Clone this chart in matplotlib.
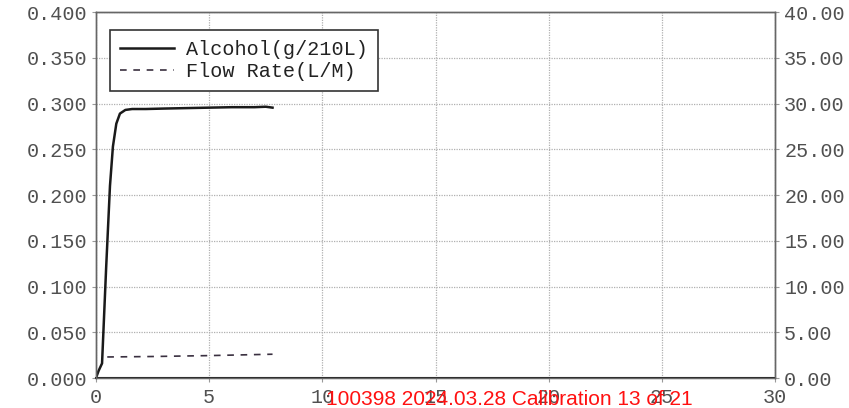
import matplotlib.pyplot as plt
from matplotlib.ticker import MultipleLocator, FormatStrFormatter

# alcohol curve (g/210L) vs time (s)
alc_t = [0.0, 0.12, 0.27, 0.45, 0.62, 0.75, 0.9, 1.06, 1.3, 1.6, 2.2, 3.0, 4.0, 5.0, 6.0, 7.0, 7.5, 7.8]
alc_v = [0.0, 0.008, 0.016, 0.12, 0.21, 0.253, 0.278, 0.289, 0.293, 0.294, 0.294, 0.2945, 0.295, 0.2955, 0.296, 0.296, 0.2965, 0.2955]

# flow rate (L/M)
flow_t = [0.5, 2.5, 5.0, 7.8]
flow_v = [2.3, 2.35, 2.45, 2.6]

mono = 'Liberation Mono'
tickcol = '#505050'

fig = plt.figure(figsize=(8.49, 4.08), dpi=100)
ax = fig.add_axes([0.113, 0.0735, 0.8, 0.897])
ax2 = ax.twinx()

l1, = ax.plot(alc_t, alc_v, color='#1a1a1a', lw=1.8, label='Alcohol(g/210L)')
l2, = ax2.plot(flow_t, flow_v, color='#3a3040', lw=1.2, ls=(0, (4, 4)), label='Flow Rate(L/M)')

ax.set_xlim(0, 30)
ax.set_ylim(0, 0.4)
ax2.set_ylim(0, 40)
ax.xaxis.set_major_locator(MultipleLocator(5))
ax.yaxis.set_major_locator(MultipleLocator(0.05))
ax.yaxis.set_major_formatter(FormatStrFormatter('%.3f'))
ax2.yaxis.set_major_locator(MultipleLocator(5))
ax2.yaxis.set_major_formatter(FormatStrFormatter('%.2f'))

ax.grid(True, color='#b0b0b0', ls=(0, (1, 1)), lw=0.9)
ax.set_axisbelow(True)

for a in (ax, ax2):
    a.tick_params(length=3, width=0.8, colors='#999999', labelcolor=tickcol, labelsize=14.5)
    for lab in a.get_xticklabels() + a.get_yticklabels():
        lab.set_fontfamily(mono)
    for s in a.spines.values():
        s.set_color('#666666')
        s.set_linewidth(1.0)
ax.spines['bottom'].set_color('#222222')
ax.spines['bottom'].set_linewidth(1.5)
ax.tick_params(axis='x', pad=4)

leg = ax.legend([l1, l2], ['Alcohol(g/210L)', 'Flow Rate(L/M)'],
                loc='upper left', bbox_to_anchor=(0.0206, 0.951), borderaxespad=0,
                fancybox=False, framealpha=1, edgecolor='#333333',
                prop={'family': mono, 'size': 14.5},
                handlelength=2.7, handletextpad=0.6, borderpad=0.5, labelspacing=0.15)
leg.get_frame().set_linewidth(1.2)
for t in leg.get_texts():
    t.set_color('#222222')

fig.text(0.6, 0.022, '100398 2024.03.28 Calibration 13 of 21', color='#ff1010',
         fontsize=15, family='Liberation Sans', ha='center', va='center')

fig.savefig('out.png', dpi=100, facecolor='white')
